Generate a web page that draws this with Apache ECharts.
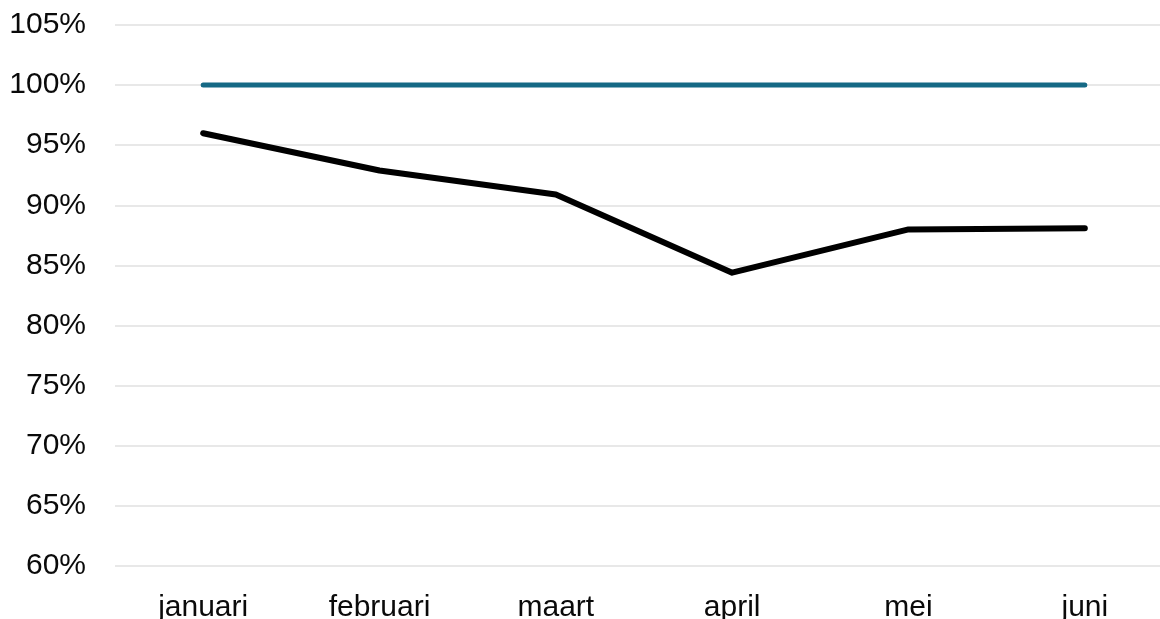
<!DOCTYPE html>
<html>
<head>
<meta charset="utf-8">
<title>Percentage per maand</title>
<script src="https://cdn.jsdelivr.net/npm/echarts@6/dist/echarts.min.js"></script>
<style>
  html, body { margin: 0; padding: 0; background: #fff; }
  #main { width: 1160px; height: 619px; }
</style>
</head>
<body>
<div id="main"></div>
<script>
// maanden op de x-as
var maanden = ['januari', 'februari', 'maart', 'april', 'mei', 'juni']
// norm (blauwe lijn) en realisatie (zwarte lijn), in procenten
var norm = [100, 100, 100, 100, 100, 100]
var realisatie = [96, 92.9, 90.9, 84.4, 88.0, 88.1]
// y-as bereik
var yMin = 60, yMax = 105, yStap = 5

var myChart = echarts.init(document.getElementById('main'))
myChart.setOption({
  animation: false,
  grid: { left: 115, width: 1058, top: 25, bottom: 53, outerBoundsMode: 'none' },
  xAxis: {
    type: 'category',
    data: maanden,
    boundaryGap: true,
    axisLine: { show: false },
    axisTick: { show: false },
    axisLabel: {
      margin: 27,
      color: '#0a0a0a',
      fontSize: 30,
      fontFamily: 'Liberation Sans, Arial, sans-serif'
    }
  },
  yAxis: {
    type: 'value',
    min: yMin,
    max: yMax,
    interval: yStap,
    axisLine: { show: false },
    axisTick: { show: false },
    splitLine: { lineStyle: { color: '#e0e0e0', width: 1.5 } },
    axisLabel: {
      margin: 29,
      color: '#0a0a0a',
      fontSize: 30,
      fontFamily: 'Liberation Sans, Arial, sans-serif',
      formatter: '{value}%'
    }
  },
  series: [{
    name: 'norm',
    type: 'line',
    data: norm,
    symbol: 'none',
    lineStyle: { color: '#156985', width: 5, cap: 'round' }
  }, {
    name: 'realisatie',
    type: 'line',
    data: realisatie,
    symbol: 'none',
    lineStyle: { color: '#000', width: 6, cap: 'round', join: 'round' }
  }]
})
</script>
</body>
</html>
